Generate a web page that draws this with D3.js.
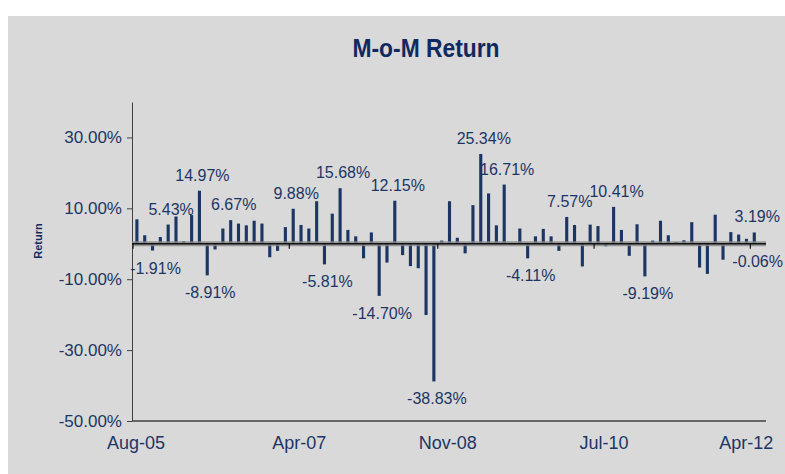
<!DOCTYPE html>
<html>
<head>
<meta charset="utf-8">
<script src="https://cdn.jsdelivr.net/npm/d3@7"></script>
<style>
  html, body { margin: 0; padding: 0; background: #fff; }
  svg { display: block; font-family: "Liberation Sans", Arial, sans-serif; }
</style>
</head>
<body>
<svg id="chart"></svg>
<script>
// Monthly returns in %, one per month starting Aug-05
const returns = [
    6.9, 2.4, -1.91, 1.9, 5.43, 7.7, 0.7, 8.1, 14.97, -8.91, -1.6, 4.3,
    6.67, 5.7, 5.2, 6.5, 5.7, -3.8, -2.0, 4.7, 9.88, 5.3, 4.3, 12.0,
    -5.81, 8.5, 15.68, 3.9, 2.1, -4.1, 3.2, -14.70, -5.3, 12.15, -3.2, -6.3,
    -6.9, -20.1, -38.83, 0.9, 12.0, 1.7, -2.7, 10.9, 25.34, 14.2, 5.2, 16.71,
    0.3, 4.3, -4.11, 2.1, 4.2, 2.1, -2.0, 7.57, 5.3, -6.4, 5.4, 5.0,
    -0.7, 10.41, 3.9, -3.4, 5.5, -9.19, 0.9, 6.5, 2.4, 0.5, 1.0, 6.1,
    -6.7, -8.5, 8.2, -4.5, 3.3, 2.6, 1.4, 3.19, -0.06
];

// Months that carry a value label
const labelledMonths = [
    "Oct-05", "Dec-05", "Apr-06", "May-06", "Aug-06", "Apr-07", "Aug-07",
    "Oct-07", "Mar-08", "May-08", "Oct-08", "Apr-09", "Jul-09", "Oct-09",
    "Mar-10", "Sep-10", "Jan-11", "Mar-12", "Apr-12"
];

// Axis ticks (the source axis puts its last label on the Mar-12 slot)
const yTicks = [-50, -30, -10, 10, 30];
const xTickMonths = ["Aug-05", "Apr-07", "Nov-08", "Jul-10", "Mar-12"];
const xTickLabels = ["Aug-05", "Apr-07", "Nov-08", "Jul-10", "Apr-12"];

const monthFmt = d3.timeFormat("%b-%y");
const firstMonth = new Date(2005, 7, 1);
const months = d3.timeMonth
    .range(firstMonth, d3.timeMonth.offset(firstMonth, returns.length))
    .map(monthFmt);
const data = months.map((m, i) => ({ month: m, value: returns[i] }));

// Canvas
const width = 785;
const height = 474;
const navy = "#1c3664";
const svg = d3.select("#chart").attr("width", width).attr("height", height);

svg.append("rect")
    .attr("x", 8).attr("y", 16)
    .attr("width", width - 8).attr("height", height - 16)
    .attr("fill", "#d9d9d9");

// Scales
const x = d3.scaleBand()
    .domain(months)
    .range([133, 766])
    .paddingInner(0.6)
    .paddingOuter(0.3);
const y = d3.scaleLinear().domain([-50, 40]).range([421, 102]);
const gapHalf = (x.step() - x.bandwidth()) / 2;

// Title
svg.append("text")
    .attr("x", 426).attr("y", 57)
    .attr("text-anchor", "middle")
    .attr("font-size", 26)
    .attr("font-weight", "bold")
    .attr("textLength", 147)
    .attr("lengthAdjust", "spacingAndGlyphs")
    .attr("fill", "#10295e")
    .text("M-o-M Return");

// Y axis
const yAxis = svg.append("g")
    .attr("transform", "translate(132,0)")
    .call(d3.axisLeft(y)
        .tickValues(yTicks)
        .tickFormat(d => d.toFixed(2) + "%")
        .tickSize(5)
        .tickSizeOuter(0)
        .tickPadding(5));
yAxis.select(".domain").attr("stroke", "#404040");
yAxis.selectAll(".tick line").attr("stroke", "#404040");
yAxis.selectAll(".tick text")
    .attr("font-size", 17)
    .attr("font-family", "Liberation Sans, Arial, sans-serif")
    .attr("fill", navy);

svg.append("text")
    .attr("transform", "translate(42,241) rotate(-90)")
    .attr("text-anchor", "middle")
    .attr("font-size", 11)
    .attr("font-weight", "bold")
    .attr("fill", "#10295e")
    .text("Return");

// Bottom border of the plot
svg.append("line")
    .attr("x1", 132).attr("x2", 766)
    .attr("y1", y(-50)).attr("y2", y(-50))
    .attr("stroke", "#404040")
    .attr("stroke-width", 1.5);

// Bars
svg.append("g").selectAll("rect")
    .data(data)
    .join("rect")
    .attr("x", d => x(d.month))
    .attr("width", x.bandwidth())
    .attr("y", d => y(Math.max(0, d.value)))
    .attr("height", d => Math.abs(y(d.value) - y(0)))
    .attr("fill", navy);

// Zero line (category axis) with halo
const y0 = y(0);
svg.append("line")
    .attr("x1", 132).attr("x2", 766)
    .attr("y1", y0).attr("y2", y0)
    .attr("stroke", "#8a8a8a").attr("stroke-width", 5).attr("opacity", 0.8);
svg.append("line")
    .attr("x1", 132).attr("x2", 766)
    .attr("y1", y0).attr("y2", y0)
    .attr("stroke", "#111").attr("stroke-width", 1.6);

const tickX = m => x(m) - gapHalf;
svg.append("g").selectAll("line")
    .data(xTickMonths)
    .join("line")
    .attr("x1", tickX).attr("x2", tickX)
    .attr("y1", y0).attr("y2", y0 + 5)
    .attr("stroke", "#111")
    .attr("stroke-width", 1.2);

// X tick labels
svg.append("g").selectAll("text")
    .data(xTickMonths)
    .join("text")
    .attr("x", (m, i) => tickX(m) + (i === 0 ? 3 : i === xTickMonths.length - 1 ? -4 : 10))
    .attr("y", 449)
    .attr("text-anchor", "middle")
    .attr("font-size", 18)
    .attr("fill", navy)
    .text((m, i) => xTickLabels[i]);

// Value labels
svg.append("g").selectAll("text")
    .data(data.filter(d => labelledMonths.includes(d.month)))
    .join("text")
    .attr("x", d => x(d.month) + x.bandwidth() / 2 + 3)
    .attr("y", d => d.value >= 0 ? y(d.value) - 10 : y(d.value) + 23)
    .attr("text-anchor", "middle")
    .attr("font-size", 16)
    .attr("fill", navy)
    .text(d => d.value.toFixed(2) + "%")
    .each(function () {
        // keep labels inside the page
        const w = this.getComputedTextLength();
        const cx = +this.getAttribute("x");
        if (cx + w / 2 > width - 2) this.setAttribute("x", width - 2 - w / 2);
    });
</script>
</body>
</html>
